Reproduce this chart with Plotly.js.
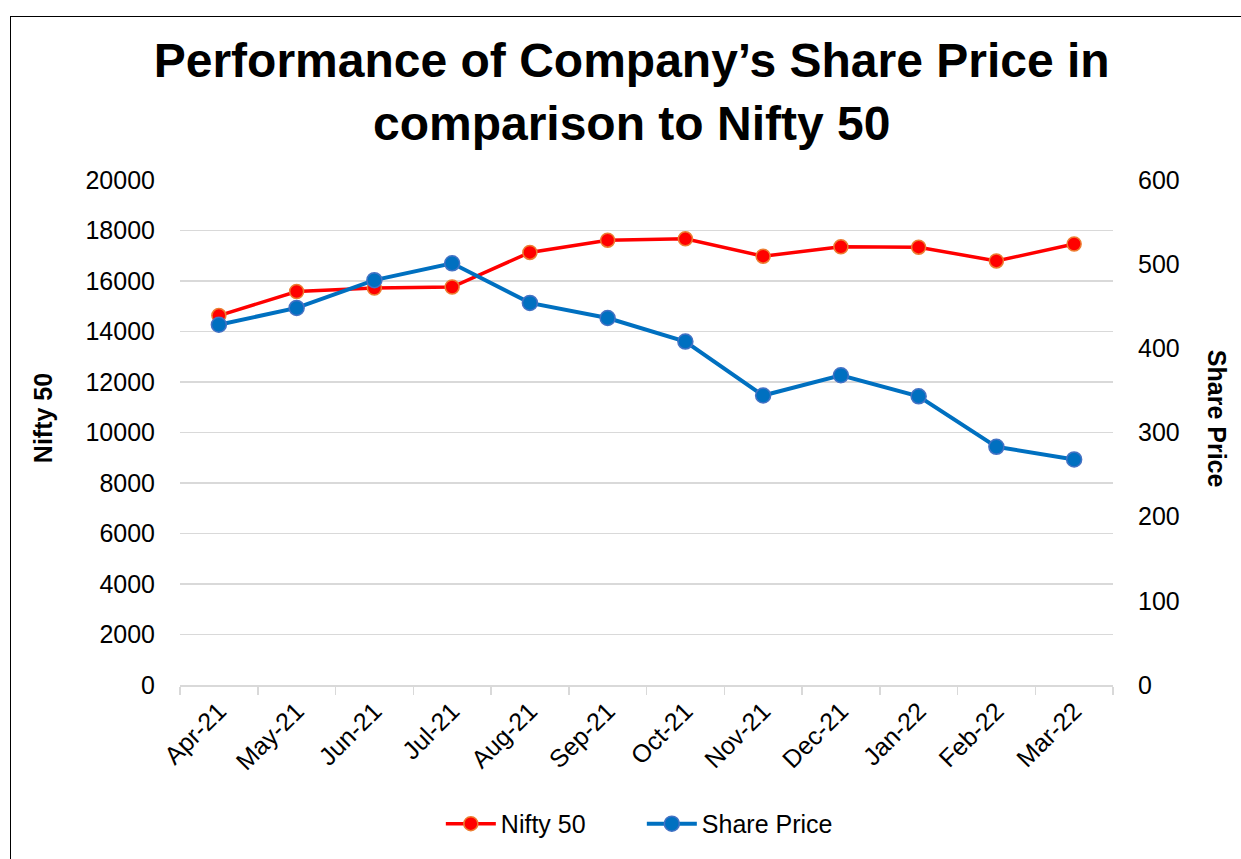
<!DOCTYPE html>
<html><head><meta charset="utf-8">
<script src="https://cdn.plot.ly/plotly-3.0.1.min.js"></script>
<style>
html,body{margin:0;padding:0;background:#fff;overflow:hidden;}
#chart{width:1241px;height:859px;position:relative;}
#frame{position:absolute;left:10px;top:16px;width:1300px;height:900px;border-left:1.5px solid #000;border-top:1.5px solid #000;pointer-events:none;z-index:10;}
</style></head>
<body>
<div id="chart"></div>
<div id="frame"></div>
<script>
const months = ["Apr-21","May-21","Jun-21","Jul-21","Aug-21","Sep-21","Oct-21","Nov-21","Dec-21","Jan-22","Feb-22","Mar-22"];
const nifty50 = [14631, 15583, 15722, 15763, 17132, 17618, 17671, 16983, 17354, 17340, 16794, 17465];
const sharePrice = [428, 448, 481, 501, 454, 436, 408, 344, 368, 343, 283, 268];
const leftTicks = [0,2000,4000,6000,8000,10000,12000,14000,16000,18000,20000];
const rightTicks = [0,100,200,300,400,500,600];

const font = "Liberation Sans, Arial, sans-serif";
const traces = [
  {x: months, y: nifty50, name: "Nifty 50", type: "scatter", mode: "lines+markers",
   line: {color: "#FF0000", width: 3.5},
   marker: {size: 14, color: "#FF0000", line: {color: "#ED7D31", width: 1.5}}},
  {x: months, y: sharePrice, name: "Share Price", type: "scatter", mode: "lines+markers", yaxis: "y2",
   line: {color: "#0070C0", width: 4},
   marker: {size: 15, color: "#0070C0", line: {color: "#4472C4", width: 1.5}}}
];
const layout = {
  width: 1241, height: 859,
  margin: {l: 180, r: 128, t: 180, b: 170},
  paper_bgcolor: "#fff", plot_bgcolor: "#fff",
  font: {family: font, color: "#000", size: 25},
  title: {text: "<b>Performance of Company’s Share Price in<br>comparison to Nifty 50</b>",
          font: {family: font, size: 48, color: "#000"}, x: 0.509, xanchor: "center", y: 0.91, yanchor: "middle"},
  showlegend: true,
  legend: {orientation: "h", x: 0.495, xanchor: "center", y: -0.275, yanchor: "middle",
           font: {family: font, size: 25, color: "#000"}, itemwidth: 50, entrywidth: 136},
  xaxis: {type: "category", range: [-0.5, 11.5], tickson: "boundaries", ticks: "outside", ticklen: 8,
          tickcolor: "#d9d9d9", tickwidth: 1.5, showgrid: false, showline: true, linecolor: "#d9d9d9", linewidth: 1.5,
          tickangle: -45, tickfont: {family: font, size: 25, color: "#000"}, fixedrange: true},
  yaxis: {range: [0, 20000], tickvals: leftTicks, ticktext: leftTicks.map(String), showgrid: true, gridcolor: "#d9d9d9", gridwidth: 1.5,
          zeroline: false, showline: false, ticks: "", ticklabelstandoff: 24, tickfont: {family: font, size: 25, color: "#000"}},
  yaxis2: {range: [0, 600], tickvals: rightTicks, ticktext: rightTicks.map(String), overlaying: "y", side: "right",
           showgrid: false, zeroline: false, showline: false, ticks: "", ticklabelstandoff: 24, tickfont: {family: font, size: 25, color: "#000"}},
  annotations: [
    {text: "<b>Nifty 50</b>", xref: "paper", yref: "paper", x: -0.146, y: 0.528, textangle: -90, showarrow: false,
     font: {family: font, size: 25, color: "#000"}, xanchor: "center", yanchor: "middle"},
    {text: "<b>Share Price</b>", xref: "paper", yref: "paper", x: 1.111, y: 0.528, textangle: 90, showarrow: false,
     font: {family: font, size: 25, color: "#000"}, xanchor: "center", yanchor: "middle"}
  ]
};
Plotly.newPlot("chart", traces, layout, {displayModeBar: false, staticPlot: true});
</script>
</body></html>
